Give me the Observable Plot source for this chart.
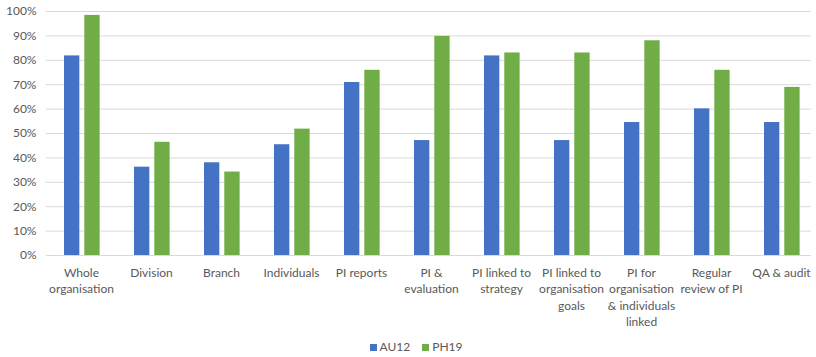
<!DOCTYPE html>
<html>
<head>
<meta charset="utf-8">
<script src="https://cdn.jsdelivr.net/npm/d3@7"></script>
<script src="https://cdn.jsdelivr.net/npm/@observablehq/plot@0.6"></script>
<style>
  html, body { margin: 0; padding: 0; background: #fff; }
  body { width: 816px; font-family: Lato, "Liberation Sans", sans-serif; color: #595959; }
  #legend { display: flex; justify-content: center; align-items: center; height: 22px; font-size: 12px; gap: 12px; margin-left: 16px; }
  #legend span.sw { display: inline-block; width: 7px; height: 7px; margin-right: 3px; }
</style>
</head>
<body>
<div id="chart"></div>
<div id="legend"></div>
<script>
const categories = ["Whole organisation", "Division", "Branch", "Individuals", "PI reports", "PI & evaluation", "PI linked to strategy", "PI linked to organisation goals", "PI for organisation & individuals linked", "Regular review of PI", "QA & audit"];
const tickLabels = ["Whole\norganisation", "Division", "Branch", "Individuals", "PI reports", "PI &\nevaluation", "PI linked to\nstrategy", "PI linked to\norganisation\ngoals", "PI for\norganisation\n& individuals\nlinked", "Regular\nreview of PI", "QA & audit"];
const seriesNames = ["AU12", "PH19"];
const au12 = [81.8, 36.2, 38.0, 45.4, 70.9, 47.1, 81.8, 47.1, 54.5, 60.1, 54.5];
const ph19 = [98.4, 46.4, 34.2, 51.8, 75.9, 89.8, 83.0, 83.0, 88.0, 75.9, 68.9];
const yTicks = [0, 10, 20, 30, 40, 50, 60, 70, 80, 90, 100];

const colors = ["#4472C4", "#70AD47"];
const rowsA = categories.map((c, i) => ({category: c, value: au12[i]}));
const rowsB = categories.map((c, i) => ({category: c, value: ph19[i]}));

const W = 816, H = 335, ml = 46, mr = 5;
const xRange = [46, 816];
const step = (xRange[1] - xRange[0]) / categories.length;
const outer = 0.257, bw = 0.219, gap = 0.071;

const chart = Plot.plot({
  width: W, height: H,
  marginLeft: ml, marginRight: mr, marginTop: 11, marginBottom: 80,
  style: {fontFamily: "Lato, 'Liberation Sans', sans-serif", fontSize: "12px", color: "#595959", background: "#fff"},
  x: {type: "band", domain: categories, padding: 0, range: xRange},
  y: {domain: [0, 100]},
  marks: [
    Plot.gridY(yTicks, {stroke: "#d9d9d9", strokeOpacity: 1}),
    Plot.axisY(yTicks, {tickSize: 0, tickPadding: 10, tickFormat: d => d + "%", label: null, fill: "#595959", fontSize: 12}),
    Plot.barY(rowsA, {x: "category", y: "value", fill: colors[0],
      insetLeft: outer * step, insetRight: step - (outer + bw) * step}),
    Plot.barY(rowsB, {x: "category", y: "value", fill: colors[1],
      insetLeft: (outer + bw + gap) * step, insetRight: step - (outer + 2 * bw + gap) * step}),
    Plot.ruleY([0], {stroke: "#d9d9d9"}),
    Plot.axisX({tickSize: 0, tickPadding: 10, label: null, lineHeight: 1.36, fontSize: 12, fill: "#595959",
      tickFormat: d => tickLabels[categories.indexOf(d)]})
  ]
});
document.getElementById("chart").append(chart);

const legend = document.getElementById("legend");
seriesNames.forEach((name, i) => {
  const item = document.createElement("div");
  item.innerHTML = `<span class="sw" style="background:${colors[i]}"></span>${name}`;
  legend.append(item);
});
</script>
</body>
</html>
